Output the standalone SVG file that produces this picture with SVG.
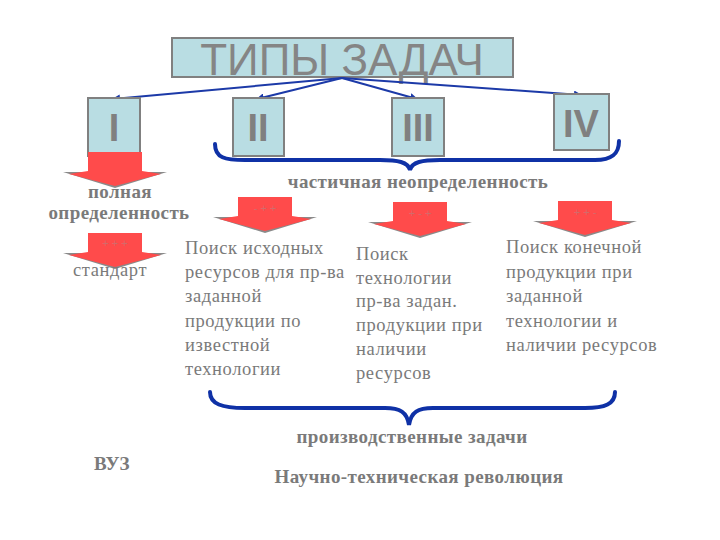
<svg xmlns="http://www.w3.org/2000/svg" width="720" height="540" viewBox="0 0 720 540">
<defs>
<marker id="ah" markerWidth="8" markerHeight="8" refX="7" refY="4" orient="auto" markerUnits="userSpaceOnUse">
<path d="M0,0 L8,4 L0,8 z" fill="#1c3aa8"/>
</marker>
<g id="redarrow">
<polygon points="-27,0 27,0 27,20 52,20 0,36 -52,20 -27,20" fill="#8a8a8a"/>
<polygon points="-27,0 27,0 27,19 46,22 0,34 -46,22 -27,19" fill="#ff4b4b"/>
</g>
</defs>
<style>
.box{fill:#b9dde3;stroke:#808080;stroke-width:2}
.rn{font-family:"Liberation Sans",Arial,sans-serif;font-weight:bold;font-size:38px;fill:#808080;text-anchor:middle}
.t{font-family:"Liberation Serif","Times New Roman",serif;font-size:18.5px;letter-spacing:0.6px;fill:#7a7a7a}
.b{font-family:"Liberation Serif","Times New Roman",serif;font-size:19px;letter-spacing:0.4px;font-weight:bold;fill:#7a7a7a}
.pm{font-family:"Liberation Sans",Arial,sans-serif;font-size:11px;fill:#d46a6a;text-anchor:middle}
.conn{stroke:#1c3aa8;stroke-width:2;fill:none}
.brace{stroke:#0f31a6;stroke-width:4;fill:none;stroke-linecap:round}
</style>
<rect width="720" height="540" fill="#ffffff"/>
<g id="title">
<rect class="box" x="172" y="38" width="341" height="39"/>
<text x="342" y="75" font-family="Liberation Sans, Arial, sans-serif" font-size="44" fill="#858585" text-anchor="middle">ТИПЫ ЗАДАЧ</text>
</g>
<g id="connectors">
<line class="conn" x1="342" y1="78" x2="113" y2="99" marker-end="url(#ah)"/>
<line class="conn" x1="342" y1="78" x2="257" y2="99" marker-end="url(#ah)"/>
<line class="conn" x1="342" y1="78" x2="417" y2="99" marker-end="url(#ah)"/>
<line class="conn" x1="342" y1="78" x2="581" y2="95" marker-end="url(#ah)"/>
<path class="brace" d="M215,144 C215,158 225,160 245,160 L380,160 C398,160 408,162 410,170 C412,162 422,160 440,160 L595,160 C612,160 619,154 619,141"/>
<path class="brace" d="M210,392 C210,404 222,408 245,408 L385,408 C400,408 407,412 409,425 C411,412 418,408 433,408 L585,408 C605,408 615,404 615,392"/>
</g>
<g id="n1"><rect class="box" x="88" y="98" width="52" height="58"/><text class="rn" x="114" y="141">I</text></g>
<g id="n2"><rect class="box" x="233" y="98" width="51" height="58"/><text class="rn" x="258" y="141">II</text></g>
<g id="n3"><rect class="box" x="392" y="98" width="52" height="58"/><text class="rn" x="418" y="141">III</text></g>
<g id="n4"><rect class="box" x="554" y="94" width="55" height="56"/><text class="rn" x="581" y="137">IV</text></g>
<g id="a1"><use href="#redarrow" transform="translate(115,152)"/></g>
<g id="a2"><use href="#redarrow" transform="translate(115,233)"/><text class="pm" x="115" y="247">+ + +</text></g>
<g id="a3"><use href="#redarrow" transform="translate(265,197)"/><text class="pm" x="265" y="212">- + +</text></g>
<g id="a4"><use href="#redarrow" transform="translate(420,202)"/><text class="pm" x="420" y="217">+ - +</text></g>
<g id="a5"><use href="#redarrow" transform="translate(585,201)"/><text class="pm" x="585" y="216">+ + -</text></g>
<g id="labels">
<text class="b" x="120" y="198" text-anchor="middle">полная</text>
<text class="b" x="119" y="219" text-anchor="middle">определенность</text>
<text class="t" x="110" y="276" text-anchor="middle">стандарт</text>
<text class="b" x="418" y="188" text-anchor="middle">частичная неопределенность</text>
<text class="t" x="185" y="254">Поиск исходных</text>
<text class="t" x="185" y="278">ресурсов для пр-ва</text>
<text class="t" x="185" y="302">заданной</text>
<text class="t" x="185" y="327">продукции по</text>
<text class="t" x="185" y="351">известной</text>
<text class="t" x="185" y="375">технологии</text>
<text class="t" x="356" y="260">Поиск</text>
<text class="t" x="356" y="284">технологии</text>
<text class="t" x="356" y="307">пр-ва задан.</text>
<text class="t" x="356" y="331">продукции при</text>
<text class="t" x="356" y="355">наличии</text>
<text class="t" x="356" y="379">ресурсов</text>
<text class="t" x="506" y="253">Поиск конечной</text>
<text class="t" x="506" y="278">продукции при</text>
<text class="t" x="506" y="302">заданной</text>
<text class="t" x="506" y="327">технологии и</text>
<text class="t" x="506" y="351">наличии ресурсов</text>
<text class="b" x="412" y="443" text-anchor="middle">производственные задачи</text>
<text class="b" x="112" y="470" text-anchor="middle">ВУЗ</text>
<text class="b" x="419" y="483" text-anchor="middle">Научно-техническая революция</text>
</g>
</svg>
